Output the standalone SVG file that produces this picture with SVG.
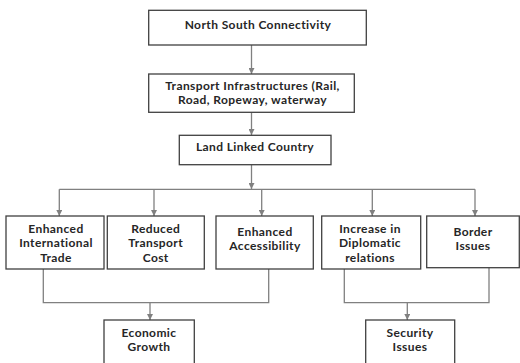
<svg xmlns="http://www.w3.org/2000/svg" width="520" height="363" viewBox="0 0 520 363">
<style>
.box{fill:#fff;stroke:#404040;stroke-width:1.3}
.t{font-family:Lato,"Liberation Sans",Arial,sans-serif;font-size:12px;font-weight:bold;letter-spacing:0.4px;fill:#262626;text-anchor:middle}
.c{fill:none;stroke:#808080;stroke-width:1.3}
</style>
<defs>
<marker id="ah" viewBox="0 0 10 10" refX="10" refY="5" markerWidth="6" markerHeight="6" markerUnits="userSpaceOnUse" orient="auto">
<path d="M0,0 L10,5 L0,10 z" fill="#808080"/>
</marker>
</defs>
<rect width="520" height="363" fill="#fff"/>
<g id="connectors">
<path class="c" d="M251.5,45 V74" marker-end="url(#ah)"/>
<path class="c" d="M251.5,112.3 V135" marker-end="url(#ah)"/>
<path class="c" d="M251.5,164.7 V189" marker-end="url(#ah)"/>
<path class="c" d="M59.3,189.3 H475"/>
<path class="c" d="M59.3,189.3 V216" marker-end="url(#ah)"/>
<path class="c" d="M154,189.3 V216" marker-end="url(#ah)"/>
<path class="c" d="M261.7,189.3 V216" marker-end="url(#ah)"/>
<path class="c" d="M372.3,189.3 V216" marker-end="url(#ah)"/>
<path class="c" d="M475,189.3 V216" marker-end="url(#ah)"/>
<path class="c" d="M43.3,269 V302.7 H268.7 V269"/>
<path class="c" d="M150,302.7 V320" marker-end="url(#ah)"/>
<path class="c" d="M344.3,269 V302.7 H489 V268"/>
<path class="c" d="M407.3,302.7 V320" marker-end="url(#ah)"/>
</g>
<g id="n1"><rect class="box" x="148.7" y="10.3" width="217.6" height="34.7"/><text class="t" x="258" y="28.5">North South Connectivity</text></g>
<g id="n2"><rect class="box" x="148.7" y="74" width="205.6" height="38.3"/><text class="t" x="252.5" y="89.8">Transport Infrastructures (Rail,</text><text class="t" x="252.5" y="104.2">Road, Ropeway, waterway</text></g>
<g id="n3"><rect class="box" x="179.3" y="135.3" width="151.7" height="29.4"/><text class="t" x="255" y="150.8">Land Linked Country</text></g>
<g id="n4"><rect class="box" x="6" y="216" width="98" height="53"/><text class="t" x="56" y="232.5">Enhanced</text><text class="t" x="56" y="246.9">International</text><text class="t" x="56" y="261.5">Trade</text></g>
<g id="n5"><rect class="box" x="107.3" y="216" width="97" height="53"/><text class="t" x="155.7" y="232.5">Reduced</text><text class="t" x="155.7" y="246.9">Transport</text><text class="t" x="155.7" y="261.5">Cost</text></g>
<g id="n6"><rect class="box" x="216" y="216" width="97.3" height="53"/><text class="t" x="265" y="235.9">Enhanced</text><text class="t" x="265" y="250.2">Accessibility</text></g>
<g id="n7"><rect class="box" x="321.7" y="216" width="99" height="53"/><text class="t" x="370" y="232.5">Increase in</text><text class="t" x="370" y="246.9">Diplomatic</text><text class="t" x="370" y="261.5">relations</text></g>
<g id="n8"><rect class="box" x="426.7" y="216" width="92.6" height="51.7"/><text class="t" x="473" y="235.9">Border</text><text class="t" x="473" y="250.2">Issues</text></g>
<g id="n9"><rect class="box" x="104" y="320" width="90.3" height="50"/><text class="t" x="149" y="336.9">Economic</text><text class="t" x="149" y="350.9">Growth</text></g>
<g id="n10"><rect class="box" x="365.7" y="320" width="89" height="50"/><text class="t" x="410" y="336.9">Security</text><text class="t" x="410" y="350.9">Issues</text></g>
</svg>
